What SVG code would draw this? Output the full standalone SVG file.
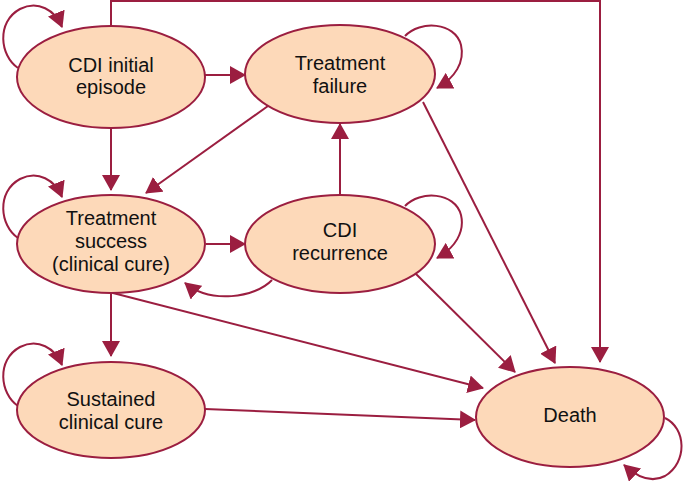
<svg xmlns="http://www.w3.org/2000/svg" width="685" height="481" viewBox="0 0 685 481">
<defs>
<marker id="ah" viewBox="0 0 16 18" refX="15" refY="9" markerWidth="16" markerHeight="18" markerUnits="userSpaceOnUse" orient="auto">
<path d="M0,0 L16,9 L0,18 z" fill="#9b1e40"/>
</marker>
<style>
.n ellipse{fill:#fdd9b9;stroke:#9b1e40;stroke-width:2}
.n text{font-family:"Liberation Sans",Arial,sans-serif;font-size:20px;fill:#111;text-anchor:middle}
.c path,.c line{fill:none;stroke:#9b1e40;stroke-width:2;marker-end:url(#ah)}
</style>
</defs>
<rect width="685" height="481" fill="#fff"/>
<g class="c" id="connectors">
<path d="M18,68 C0,56 -4,22 20,9 C38,0 55,10 62,27"/>
<path d="M18,238 C0,226 -4,192 20,179 C38,170 55,180 62,197"/>
<path d="M18,406 C0,394 -4,360 20,347 C38,338 55,348 62,365"/>
<path d="M405,36 C420,20 455,22 461,45 C465,62 455,78 437,88"/>
<path d="M405,206 C420,190 455,192 461,215 C465,232 455,248 437,258"/>
<path d="M665,418 C686,428 688,462 665,476 C650,484 636,476 624,465"/>
<line x1="205" y1="75" x2="245" y2="75"/>
<line x1="111" y1="128" x2="111" y2="190"/>
<line x1="268" y1="106" x2="146" y2="193"/>
<line x1="340" y1="195" x2="340" y2="124"/>
<line x1="206" y1="244" x2="245" y2="244"/>
<path d="M272,280 C255,298 210,304 185,283"/>
<line x1="111" y1="293" x2="111" y2="356"/>
<path d="M113,293 L483,388"/>
<path d="M415,273 L515,372"/>
<path d="M423,102 L555,363"/>
<path d="M205,409 L475,420"/>
<path d="M111,26 L111,1 L600,1 L600,362"/>
</g>
<g class="n" id="cdi-initial">
<ellipse cx="111" cy="77" rx="94" ry="51"/>
<text x="111" y="72">CDI initial</text>
<text x="111" y="94">episode</text>
</g>
<g class="n" id="treatment-failure">
<ellipse cx="340" cy="74" rx="95" ry="49"/>
<text x="340" y="70">Treatment</text>
<text x="340" y="93">failure</text>
</g>
<g class="n" id="treatment-success">
<ellipse cx="111" cy="244" rx="94" ry="49"/>
<text x="111" y="225">Treatment</text>
<text x="111" y="248">success</text>
<text x="111" y="271">(clinical cure)</text>
</g>
<g class="n" id="cdi-recurrence">
<ellipse cx="340" cy="244" rx="95" ry="49"/>
<text x="340" y="237">CDI</text>
<text x="340" y="260">recurrence</text>
</g>
<g class="n" id="sustained">
<ellipse cx="111" cy="410" rx="94" ry="48"/>
<text x="111" y="406">Sustained</text>
<text x="111" y="429">clinical cure</text>
</g>
<g class="n" id="death">
<ellipse cx="570" cy="417" rx="94" ry="50"/>
<text x="570" y="422">Death</text>
</g>
</svg>
